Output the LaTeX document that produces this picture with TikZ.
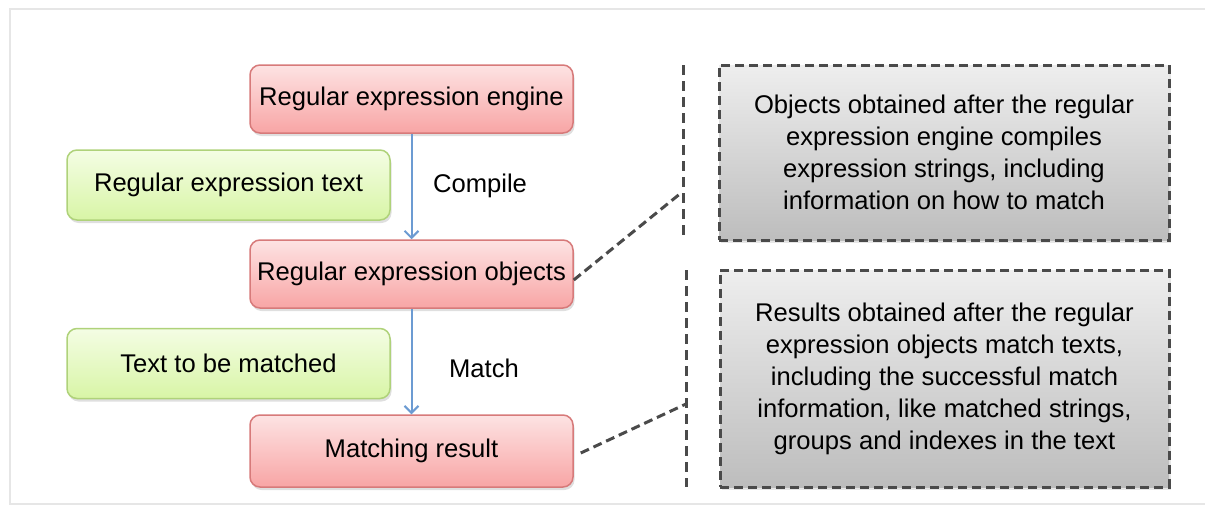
\documentclass[tikz,border=0pt]{standalone}
\usepackage{fontspec}
\setmainfont{Liberation Sans}
\usetikzlibrary{arrows.meta,shadows}
\definecolor{redtop}{HTML}{FDE3E3}
\definecolor{redbot}{HTML}{F8A5A5}
\definecolor{redline}{HTML}{D77A7A}
\definecolor{grntop}{HTML}{F4FDE4}
\definecolor{grnbot}{HTML}{D8F5A6}
\definecolor{grnline}{HTML}{AFD27A}
\definecolor{grytop}{HTML}{EEEEEE}
\definecolor{grybot}{HTML}{BDBDBD}
\definecolor{dashgrey}{HTML}{4A4A4A}
\definecolor{arrowblue}{HTML}{6C9BD2}
\definecolor{framegrey}{HTML}{E6E6E6}
\tikzset{
  basebox/.style={rounded corners=10pt, line width=1.5pt, inner sep=0pt, align=center,
    drop shadow={opacity=0.25, shadow xshift=1.5pt, shadow yshift=-3pt}},
  redbox/.style={basebox, draw=redline, top color=redtop, bottom color=redbot,
    minimum width=323pt, minimum height=68pt},
  greenbox/.style={basebox, draw=grnline, top color=grntop, bottom color=grnbot,
    minimum width=323pt, minimum height=70pt},
  greybox/.style={draw=dashgrey, line width=3pt, dash pattern=on 9pt off 5pt,
    top color=grytop, bottom color=grybot, inner sep=0pt, align=center,
    drop shadow={opacity=0.2, shadow xshift=1.5pt, shadow yshift=-3pt}},
  flow/.style={draw=arrowblue, line width=2pt, -{Straight Barb[length=7pt,width=14pt,line width=2pt]}},
  guide/.style={draw=dashgrey, line width=3pt, dash pattern=on 10pt off 6pt},
  link/.style={draw=dashgrey, line width=3pt, dash pattern=on 9pt off 5pt},
  lbl/.style={inner sep=0pt}
}
\begin{document}
\begin{tikzpicture}[x=1pt,y=-1pt]
\fontsize{25.6}{32}\selectfont
\useasboundingbox (0,0) rectangle (1205,506);
\draw[framegrey, line width=2pt] (1205,9) -- (10,9) -- (10,504) -- (1205,504);

\node[redbox] (eng) at (411.5,99) {Regular expression engine};
\node[greenbox] (rtext) at (228.5,185) {Regular expression text};
\node[redbox] (obj) at (411.5,274) {Regular expression objects};
\node[greenbox] (tmatch) at (228.5,363.5) {Text to be matched};
\node[redbox, minimum height=72pt] (res) at (411.5,451) {Matching result};

\draw[flow] (eng.south) -- (obj.north);
\draw[flow] (obj.south) -- (res.north);
\node[lbl] (lcomp) at (480,186) {Compile};
\node[lbl] (lmatch) at (484,368) {Match};

\node[greybox, minimum width=450pt, minimum height=175pt] (g1) at (944,152.5)
  {Objects obtained after the regular\\expression engine compiles\\expression strings, including\\information on how to match};
\node[greybox, minimum width=449pt, minimum height=217pt] (g2) at (944.5,378.5)
  {Results obtained after the regular\\expression objects match texts,\\including the successful match\\information, like matched strings,\\groups and indexes in the text};

\coordinate (v1a) at (683,65);
\coordinate (v1b) at (683,240);
\coordinate (v2a) at (686,270);
\coordinate (v2b) at (686,487);
\coordinate (j1) at (681,193);
\coordinate (j2) at (686,404);
\draw[guide] (v1a) -- (v1b);
\draw[guide] (v2a) -- (v2b);
\draw[link] ([yshift=-6pt]obj.east) -- (j1);
\draw[link] ([xshift=7pt,yshift=-2pt]res.east) -- (j2);
\end{tikzpicture}
\end{document}
